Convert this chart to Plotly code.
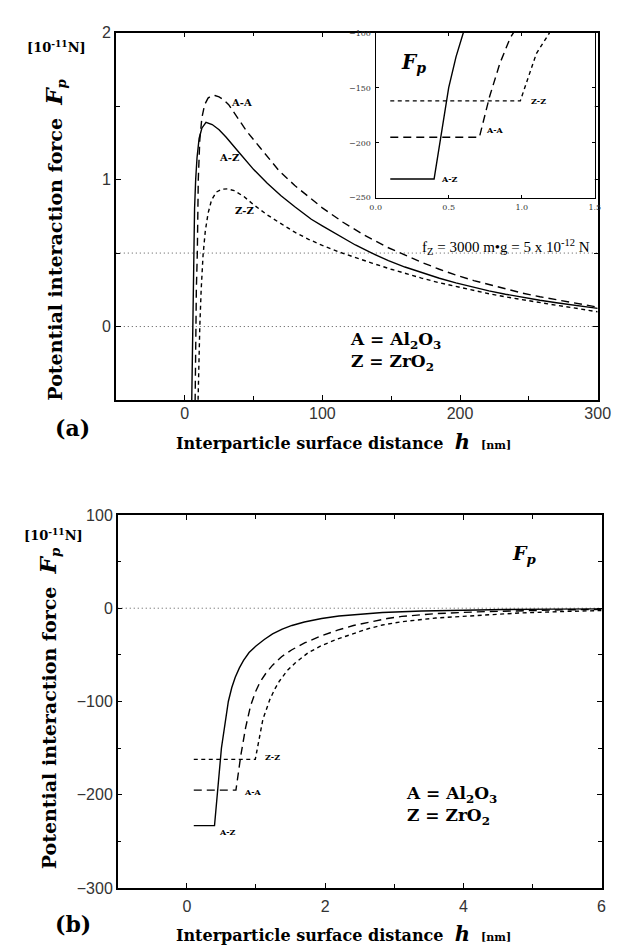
import plotly.graph_objects as go

W, H = 625, 950

# ---------------- (a) long-range force, h in nm, Fp in 1e-11 N ----------------
AZ_h_a = [5.0, 5.6, 5.9, 6.5, 7.2, 8.0, 9.0, 10.5, 12.5, 15.5, 20, 25, 30, 40, 50, 60, 70, 80, 92, 100,
          112, 124, 136, 148, 160, 172, 185, 197, 209, 221, 233, 245, 258, 270, 282, 300]
AZ_f_a = [-0.6, -0.2, 0.0, 0.4, 0.8, 1.0, 1.15, 1.28, 1.35, 1.39, 1.375, 1.34, 1.29, 1.18, 1.07, 0.975,
          0.89, 0.815, 0.73, 0.685, 0.617, 0.555, 0.499, 0.449, 0.405, 0.366, 0.329, 0.297, 0.269,
          0.243, 0.22, 0.199, 0.179, 0.162, 0.146, 0.124]

AA_h_a = [7.5, 7.8, 8.0, 8.5, 9.2, 9.9, 11.0, 12.5, 14.5, 17, 19.5, 22, 25, 28, 32, 38, 45, 55, 68.6,
          80, 92, 100, 115, 130, 147, 160, 172.7, 185, 197, 210, 221, 233, 245, 258, 270, 283, 295, 300]
AA_f_a = [-0.6, -0.25, 0.0, 0.25, 0.5, 1.0, 1.27, 1.42, 1.51, 1.555, 1.57, 1.572, 1.563, 1.545, 1.51,
          1.43, 1.33, 1.215, 1.06, 0.96, 0.865, 0.808, 0.71, 0.625, 0.54, 0.485, 0.435, 0.39, 0.35, 0.313,
          0.285, 0.256, 0.228, 0.203, 0.183, 0.162, 0.141, 0.132]

ZZ_h_a = [9.5, 10.3, 11.0, 12.0, 13.4, 15.0, 17.0, 19.5, 23, 27, 31, 36, 43, 50, 60, 70, 80, 90, 100,
          112, 124, 136, 150, 160, 172, 185, 197, 209, 221, 233.5, 245, 258, 270, 282, 300]
ZZ_f_a = [-0.6, -0.2, 0.0, 0.25, 0.49, 0.65, 0.77, 0.86, 0.915, 0.935, 0.937, 0.925, 0.885, 0.83, 0.76,
          0.70, 0.642, 0.594, 0.552, 0.508, 0.468, 0.432, 0.39, 0.362, 0.33, 0.298, 0.272, 0.247, 0.223,
          0.201, 0.182, 0.162, 0.145, 0.128, 0.10]

FZ_LEVEL = 0.5  # fz = 5e-12 N = 0.5 x 1e-11 N

# ---------------- (b) short-range force, h in nm, Fp in 1e-11 N ----------------
AZ_h_b = [0.10, 0.40, 0.50, 0.55, 0.60, 0.65, 0.70, 0.76, 0.82, 0.90, 1.00, 1.12, 1.24, 1.38, 1.52,
          1.70, 1.95, 2.20, 2.50, 2.83, 3.40, 4.00, 4.60, 5.30, 6.00]
AZ_f_b = [-233, -233, -150, -122, -100, -85, -74, -64, -56, -47.5, -40.5, -33.5, -27.5, -22.5, -18.5,
          -14.8, -11, -8.3, -6.2, -4.6, -3.0, -2.0, -1.4, -1.0, -0.7]

AA_h_b = [0.10, 0.71, 0.78, 0.85, 0.92, 0.99, 1.06, 1.15, 1.24, 1.37, 1.52, 1.71, 1.95, 2.18, 2.41,
          2.65, 2.90, 3.11, 3.60, 4.20, 4.80, 5.40, 6.00]
AA_f_b = [-195, -195, -158, -128, -105, -90, -79, -69, -61, -52, -44.5, -37, -29.5, -23.5, -18.5,
          -14.5, -11, -8.8, -5.8, -3.9, -2.7, -1.8, -1.2]

ZZ_h_b = [0.10, 0.99, 1.10, 1.20, 1.27, 1.34, 1.45, 1.57, 1.75, 1.95, 2.18, 2.41, 2.62, 2.83, 3.11,
          3.60, 4.20, 4.80, 5.40, 6.00]
ZZ_f_b = [-162, -162, -119, -98, -87, -78, -67, -58.5, -48, -40, -33, -27, -22, -18, -14.5,
          -10.5, -7.5, -5.2, -3.6, -2.5]

X_TICKS_A = [0, 100, 200, 300]
Y_TICKS_A = [0, 1, 2]
X_TICKS_IN = [0.0, 0.5, 1.0, 1.5]
Y_TICKS_IN = [-250, -200, -150, -100]
X_TICKS_B = [0, 2, 4, 6]
Y_TICKS_B = [-300, -200, -100, 0, 100]

SOLID = "solid"
LONG = "8px,5px"
SHORT = "4px,3.5px"

fig = go.Figure()


def curve(x, y, dash, xa, ya):
    fig.add_trace(go.Scatter(x=x, y=y, mode="lines", xaxis=xa, yaxis=ya,
                             line=dict(color="black", width=1.4, dash=dash),
                             showlegend=False, hoverinfo="skip"))


for (hx, fy, d) in [(AZ_h_a, AZ_f_a, SOLID), (AA_h_a, AA_f_a, LONG), (ZZ_h_a, ZZ_f_a, SHORT)]:
    curve(hx, fy, d, "x", "y")
for (hx, fy, d) in [(AZ_h_b, AZ_f_b, SOLID), (AA_h_b, AA_f_b, LONG), (ZZ_h_b, ZZ_f_b, SHORT)]:
    curve(hx, fy, d, "x2", "y2")
    curve(hx, fy, d, "x3", "y3")


def px(x):
    return x / W


def py(y):
    return 1 - y / H


TICKFONT = dict(family="Liberation Sans", size=16, color="#333")
SERIF = "DejaVu Serif"

common = dict(showline=True, linecolor="black", linewidth=1.5, mirror="ticks", ticks="inside",
              ticklen=5, tickcolor="black", showgrid=False, zeroline=False, tickfont=TICKFONT)
inset = {**common, "tickfont": dict(family=SERIF, size=8, color="#333"), "ticklen": 3, "linewidth": 1.2}

fig.update_layout(
    width=W, height=H, margin=dict(l=0, r=0, t=0, b=0),
    paper_bgcolor="white", plot_bgcolor="white", showlegend=False,
    xaxis=dict(domain=[px(105), px(602)], range=[-50, 300], tickvals=X_TICKS_A,
               minor=dict(dtick=50, tick0=0, ticks="inside", ticklen=4, tickcolor="black"),
               anchor="y", ticklabelstandoff=-2, **common),
    yaxis=dict(domain=[py(391), py(17)], range=[-0.5, 2], tickvals=Y_TICKS_A,
               minor=dict(dtick=0.5, tick0=0, ticks="inside", ticklen=4, tickcolor="black"),
               anchor="x", ticksuffix="\u2002\u00a0", **common),
    xaxis2=dict(domain=[px(373), px(599)], range=[0, 1.5], tickvals=X_TICKS_IN, tickformat=".1f",
                anchor="y2", ticklabelstandoff=2, **inset),
    yaxis2=dict(domain=[py(185), py(17)], range=[-250, -100], tickvals=Y_TICKS_IN,
                anchor="x2", ticklabelstandoff=2, **inset),
    xaxis3=dict(domain=[px(107), px(606)], range=[-1, 6], tickvals=X_TICKS_B,
                minor=dict(dtick=1, tick0=0, ticks="inside", ticklen=4, tickcolor="black"),
                anchor="y3", ticklabelstandoff=3, **common),
    yaxis3=dict(domain=[py(888), py(508)], range=[-300, 100], tickvals=Y_TICKS_B,
                minor=dict(dtick=50, tick0=0, ticks="inside", ticklen=4, tickcolor="black"),
                anchor="x3", ticksuffix="\u2002\u2002", **common),
)

# reference lines
dot = dict(color="#555", width=1, dash="1px,3px")
fig.add_shape(type="line", xref="x domain", yref="y", x0=0, x1=1, y0=0, y1=0, line=dot, layer="below")
fig.add_shape(type="line", xref="x domain", yref="y", x0=0, x1=1, y0=FZ_LEVEL, y1=FZ_LEVEL, line=dot, layer="below")
fig.add_shape(type="line", xref="x3 domain", yref="y3", x0=0, x1=1, y0=0, y1=0, line=dot, layer="below")


def note(text, x, y, size, family=SERIF, xanchor="center", angle=0, color="black", align="center"):
    fig.add_annotation(text=text, x=px(x), y=py(y), xref="paper", yref="paper", showarrow=False,
                       xanchor=xanchor, yanchor="middle", textangle=angle, align=align,
                       font=dict(family=family, size=size, color=color))


ytitle = "<b>Potential interaction force  <i><span style='font-size:23px'>F</span><sub>p</sub></i></b>"
xtitle = ("<b>Interparticle surface distance  <i><span style='font-size:21px'>h</span></i>  "
          "<span style='font-size:11px'>[nm]</span></b>")
unit = "<b>[10<sup>-11</sup>N]</b>"
legend_txt = "<b>A = Al<sub>2</sub>O<sub>3</sub><br>Z = ZrO<sub>2</sub></b>"

# panel (a)
note(unit, 44, 31, 13)
note(ytitle, 42, 228, 19, angle=-90)
note(xtitle, 340, 433, 16)
note("<b>(a)</b>", 60, 420, 22)
note(legend_txt, 344, 342, 17, xanchor="left", align="left")
note("<b>A-A</b>", 235, 88, 10)
note("<b>A-Z</b>", 222, 144, 10)
note("<b>Z-Z</b>", 238, 198, 10)
note("f<sub>Z</sub> = 3000 m\u2022g = 5 x 10<sup>-12</sup> N", 419, 235, 15, family="Liberation Serif",
     xanchor="left")
# inset labels
note("<b><i>F<sub>p</sub></i></b>", 412, 48, 20)
note("<b>A-Z</b>", 449, 166, 8)
note("<b>A-A</b>", 496, 116, 8)
note("<b>Z-Z</b>", 541, 87, 8)

# panel (b)
note(unit, 41, 528, 13)
note(ytitle, 35, 705, 19, angle=-90)
note(xtitle, 340, 934, 16)
note("<b>(b)</b>", 61, 925, 22)
note(legend_txt, 402, 804, 17, xanchor="left", align="left")
note("<b>Z-Z</b>", 267, 754, 8)
note("<b>A-A</b>", 247, 790, 8)
note("<b>A-Z</b>", 220, 831, 8)
note("<b><i>F<sub>p</sub></i></b>", 527, 548, 19)

fig.write_html("out.html")
